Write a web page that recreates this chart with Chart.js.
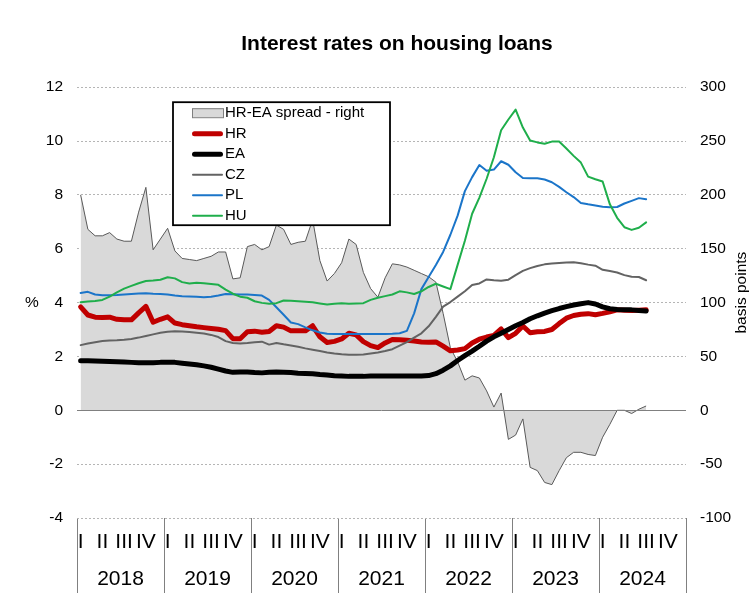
<!DOCTYPE html>
<html>
<head>
<meta charset="utf-8">
<title>Interest rates on housing loans</title>
<script src="https://cdn.jsdelivr.net/npm/chart.js@4.4.1/dist/chart.umd.min.js"></script>
<style>
  html, body { margin: 0; padding: 0; background: #fff; }
  #wrap { width: 754px; height: 611px; }
</style>
</head>
<body>
<div id="wrap"><canvas id="ratesChart" width="754" height="611"></canvas></div>
<script>
const years = ["2018", "2019", "2020", "2021", "2022", "2023", "2024"]
const quarterLabels = ["I", "II", "III", "IV"]

// monthly categories, Jan 2018 - Dec 2024 (data runs to Jul 2024)
const months = []
years.forEach(y => {
  for (let m = 1; m <= 12; m++) months.push(y + "-" + String(m).padStart(2, "0"))
})

// basis points, right axis
const spreadHrEa = [
  200, 168, 162, 162, 165, 159, 157, 157, 184, 207, 149, 159,
  169, 148, 141, 140, 139, 141, 143, 147, 147, 122, 123, 152,
  154, 149, 152, 172, 168, 154, 156, 157, 177, 139, 120, 127,
  137, 159, 154, 128, 113, 105, 123, 136, 135, 133, 130, 127,
  124, 119, 90, 58, 45, 28, 32, 30, 18, 3, 16, -27,
  -23, -8, -53, -56, -67, -69, -56, -44, -39, -39, -41, -42,
  -25, -13, 0, 0, -3, 1, 4
]

// percent, left axis
const hr = [
  3.84, 3.54, 3.46, 3.45, 3.46, 3.38, 3.36, 3.36, 3.62, 3.86, 3.27, 3.38,
  3.47, 3.24, 3.18, 3.14, 3.10, 3.07, 3.04, 3.01, 2.96, 2.66, 2.66, 2.92,
  2.94, 2.90, 2.93, 3.14, 3.09, 2.95, 2.95, 2.95, 3.14, 2.73, 2.52, 2.56,
  2.65, 2.86, 2.80, 2.55, 2.40, 2.33, 2.50, 2.63, 2.62, 2.60, 2.57, 2.54,
  2.53, 2.54, 2.38, 2.21, 2.24, 2.29, 2.50, 2.64, 2.72, 2.78, 3.02, 2.70,
  2.86, 3.13, 2.88, 2.92, 2.93, 3.00, 3.22, 3.42, 3.52, 3.57, 3.59, 3.55,
  3.60, 3.66, 3.73, 3.72, 3.71, 3.72, 3.73
]

const ea = [
  1.84, 1.84, 1.83, 1.82, 1.81, 1.80, 1.79, 1.78, 1.77, 1.77, 1.77, 1.78,
  1.78, 1.78, 1.75, 1.72, 1.69, 1.65, 1.60, 1.53, 1.46, 1.41, 1.42, 1.42,
  1.40, 1.39, 1.41, 1.42, 1.41, 1.40, 1.38, 1.37, 1.36, 1.33, 1.31, 1.28,
  1.27, 1.26, 1.26, 1.26, 1.27, 1.27, 1.27, 1.27, 1.27, 1.27, 1.27, 1.27,
  1.29, 1.36, 1.49, 1.65, 1.85, 2.03, 2.20, 2.38, 2.57, 2.73, 2.86, 3.00,
  3.14, 3.26, 3.40, 3.51, 3.61, 3.70, 3.78, 3.85, 3.91, 3.96, 4.00, 3.95,
  3.84, 3.77, 3.74, 3.73, 3.73, 3.71, 3.69
]

const cz = [
  2.42, 2.48, 2.53, 2.57, 2.59, 2.60, 2.62, 2.65, 2.70, 2.76, 2.82, 2.88,
  2.92, 2.94, 2.93, 2.91, 2.88, 2.85, 2.80, 2.72, 2.57, 2.50, 2.48, 2.50,
  2.53, 2.55, 2.44, 2.50, 2.45, 2.41, 2.36, 2.30, 2.25, 2.20, 2.15, 2.11,
  2.08, 2.06, 2.06, 2.07, 2.11, 2.15, 2.20, 2.27, 2.40, 2.53, 2.70, 2.86,
  3.12, 3.47, 3.85, 4.02, 4.22, 4.42, 4.65, 4.71, 4.86, 4.83, 4.81, 4.85,
  5.02, 5.18, 5.28, 5.36, 5.42, 5.45, 5.47, 5.49, 5.50, 5.46, 5.41, 5.37,
  5.22, 5.17, 5.12, 5.02, 4.96, 4.95, 4.83
]

const pl = [
  4.36, 4.40, 4.30, 4.27, 4.27, 4.28, 4.30, 4.32, 4.34, 4.35, 4.33, 4.32,
  4.30, 4.26, 4.24, 4.23, 4.22, 4.20, 4.22, 4.26, 4.32, 4.31, 4.30, 4.30,
  4.28, 4.26, 4.10, 3.83, 3.55, 3.26, 3.20, 3.08, 2.97, 2.89, 2.84, 2.83,
  2.83, 2.83, 2.83, 2.83, 2.83, 2.83, 2.83, 2.84, 2.86, 2.95, 3.60, 4.50,
  4.95, 5.40, 5.88, 6.52, 7.23, 8.14, 8.66, 9.11, 8.90, 8.94, 9.25, 9.12,
  8.84, 8.63, 8.62, 8.62, 8.57, 8.47, 8.30, 8.10, 7.92, 7.70, 7.65, 7.61,
  7.56, 7.54, 7.55, 7.68, 7.78, 7.88, 7.84
]

const hu = [
  4.01, 4.04, 4.06, 4.10, 4.22, 4.38, 4.52, 4.62, 4.72, 4.80, 4.82, 4.85,
  4.94, 4.90, 4.76, 4.71, 4.74, 4.72, 4.69, 4.66, 4.48, 4.33, 4.22, 4.18,
  4.05, 3.99, 3.96, 3.98, 4.08, 4.07, 4.05, 4.03, 4.01, 3.97, 3.93, 3.96,
  3.98, 3.96, 3.97, 3.98, 4.10, 4.18, 4.24, 4.30, 4.42, 4.38, 4.32, 4.42,
  4.58, 4.70, 4.60, 4.50, 5.40, 6.30, 7.30, 7.90, 8.60, 9.40, 10.40, 10.80,
  11.17, 10.50, 10.02, 9.95, 9.90, 9.98, 9.98, 9.72, 9.45, 9.20, 8.68, 8.58,
  8.50, 7.65, 7.15, 6.80, 6.70, 6.78, 6.98
]

const fontFamily = "'Liberation Sans', Arial, sans-serif"

// "%" on the left, "basis points" on the right (reads bottom to top)
const axisTitles = {
  id: "axisTitles",
  afterDraw(chart) {
    const { ctx, chartArea, scales } = chart
    const midY = (chartArea.top + chartArea.bottom) / 2
    ctx.save()
    ctx.fillStyle = "#000"
    ctx.font = "15.5px " + fontFamily
    ctx.textAlign = "center"
    ctx.textBaseline = "middle"
    ctx.fillText("%", scales.y.left - 8, midY)
    ctx.translate(scales.y1.right - 8, midY - 10)
    ctx.rotate(-Math.PI / 2)
    ctx.textBaseline = "alphabetic"
    ctx.fillText("basis points", 0, 0)
    ctx.restore()
  }
}

// boxed legend sitting inside the plot, like the Excel one
const boxLegend = {
  id: "boxLegend",
  afterDraw(chart) {
    const { ctx, chartArea } = chart
    const left = chartArea.left + 96
    const top = chartArea.top + 15
    const width = 217
    const height = 123
    ctx.save()
    ctx.fillStyle = "#fff"
    ctx.fillRect(left, top, width, height)
    ctx.strokeStyle = "#000"
    ctx.lineWidth = 1.8
    ctx.strokeRect(left, top, width, height)
    ctx.font = "15px " + fontFamily
    ctx.textBaseline = "middle"
    ctx.textAlign = "left"
    chart.data.datasets.forEach((ds, i) => {
      const y = top + 11 + i * 20.5
      const x0 = left + 19
      const x1 = left + 50
      if (ds.fill) {
        ctx.fillStyle = ds.backgroundColor
        ctx.fillRect(x0, y - 5, x1 - x0, 9)
        ctx.strokeStyle = "#7f7f7f"
        ctx.lineWidth = 1
        ctx.strokeRect(x0 + 0.5, y - 4.5, x1 - x0, 9)
      } else {
        ctx.strokeStyle = ds.borderColor
        ctx.lineWidth = ds.borderWidth
        ctx.lineCap = "round"
        ctx.beginPath()
        ctx.moveTo(x0 + ds.borderWidth / 2, y)
        ctx.lineTo(x1 - ds.borderWidth / 2, y)
        ctx.stroke()
      }
      ctx.fillStyle = "#000"
      ctx.fillText(ds.label, left + 52, y)
    })
    ctx.restore()
  }
}

const lineStyle = { pointRadius: 0, tension: 0, borderJoinStyle: "round", borderCapStyle: "round", fill: false }

const config = {
  type: "line",
  data: {
    labels: months,
    datasets: [
      {
        label: "HR-EA spread - right",
        data: spreadHrEa,
        yAxisID: "y1",
        borderColor: "#595959",
        backgroundColor: "#d9d9d9",
        borderWidth: 1,
        pointRadius: 0,
        tension: 0,
        fill: "origin",
        order: 6
      },
      { ...lineStyle, label: "HR", data: hr, borderColor: "#c00000", borderWidth: 5, order: 5 },
      { ...lineStyle, label: "EA", data: ea, borderColor: "#000000", borderWidth: 5, order: 4 },
      { ...lineStyle, label: "CZ", data: cz, borderColor: "#636363", borderWidth: 2, order: 3 },
      { ...lineStyle, label: "PL", data: pl, borderColor: "#1b75c9", borderWidth: 2, order: 2 },
      { ...lineStyle, label: "HU", data: hu, borderColor: "#1fae4b", borderWidth: 2, order: 1 }
    ]
  },
  options: {
    responsive: false,
    devicePixelRatio: 1,
    animation: false,
    events: [],
    layout: { padding: { left: 40, right: 0, top: 0, bottom: 7 } },
    scales: {
      x: {
        type: "category",
        offset: true,
        weight: 1,
        grid: {
          offset: true,
          drawOnChartArea: false,
          drawTicks: true,
          tickLength: 75,
          color: ctx => (ctx.index === undefined || ctx.index % 12 === 0) ? "#808080" : "rgba(0,0,0,0)"
        },
        border: { display: false },
        ticks: {
          autoSkip: false,
          maxRotation: 0,
          minRotation: 0,
          padding: -63,
          color: "#000",
          font: { size: 21 },
          callback: (value, index) => index % 3 === 0 ? quarterLabels[(index % 12) / 3] : ""
        },
        afterFit: axis => { axis.height = 36 }
      },
      x2: {
        type: "category",
        labels: years,
        offset: true,
        position: "bottom",
        weight: 2,
        grid: { display: false, drawTicks: false },
        border: { display: false },
        ticks: { autoSkip: false, maxRotation: 0, padding: 13, color: "#000", font: { size: 21 } },
        afterFit: axis => { axis.height = 50 }
      },
      y: {
        position: "left",
        min: -4,
        max: 12,
        ticks: { stepSize: 2, padding: 14, color: "#000", font: { size: 15.5 } },
        grid: {
          drawTicks: false,
          color: ctx => (ctx.tick && ctx.tick.value === 0) ? "rgba(0,0,0,0)" : "#b5b5b5"
        },
        border: { display: false, dash: [2, 2] },
        afterFit: axis => { axis.width = 37 }
      },
      y1: {
        position: "right",
        min: -100,
        max: 300,
        ticks: { stepSize: 50, padding: 14, color: "#000", font: { size: 15.5 } },
        grid: {
          drawTicks: false,
          z: 1,
          color: ctx => (ctx.tick && ctx.tick.value === 0) ? "#808080" : "rgba(0,0,0,0)"
        },
        border: { display: false },
        afterFit: axis => { axis.width = 68 }
      }
    },
    plugins: {
      legend: { display: false },
      tooltip: { enabled: false },
      title: {
        display: true,
        text: "Interest rates on housing loans",
        color: "#000",
        font: { size: 21, weight: "bold" },
        padding: { top: 32, bottom: 30 }
      }
    }
  },
  plugins: [axisTitles, boxLegend]
}

Chart.defaults.font.family = fontFamily
Chart.defaults.color = "#000"

new Chart(document.getElementById("ratesChart"), config)
</script>
</body>
</html>
